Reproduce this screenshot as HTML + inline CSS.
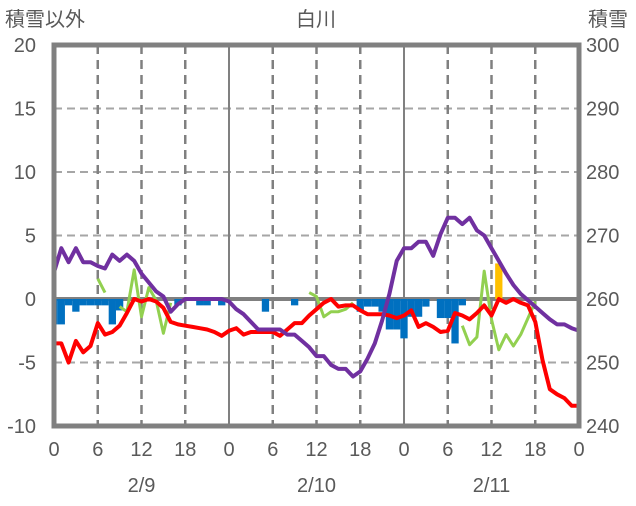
<!DOCTYPE html>
<html><head><meta charset="utf-8"><style>
body{margin:0;background:#fff;}
svg text{font-family:"Liberation Sans","Noto Sans CJK JP",sans-serif;fill:#595959;}
</style></head><body>
<svg id="chart" width="636" height="501" viewBox="0 0 636 501" xmlns="http://www.w3.org/2000/svg">
<g id="grid"></g>
<g id="bars"></g>
<g id="lines"></g>
<g id="frame"></g>
<g id="labels"></g>
<text x="316" y="26" font-size="20" text-anchor="middle">白川</text>
<text x="5" y="26" font-size="20">積雪以外</text>
<text x="588" y="26" font-size="20">積雪</text>
</svg>
<script>
const hours = Array.from({length:73},(_,i)=>i);
const leftTicks = [20,15,10,5,0,-5,-10];
const rightTicks = [300,290,280,270,260,250,240];
const xTickLabels = ["0","6","12","18","0","6","12","18","0","6","12","18","0"];
const dateLabels = ["2/9","2/10","2/11"];
// snow depth (right axis, cm)
const depth = [264.2,268,265.8,268,265.8,265.8,265.2,264.8,267,266,267,266,264,262.6,261.2,260.4,258,259.2,260,260,260,260,260,260,259.6,258.4,257.6,256.4,255.2,255.2,255.2,255.2,254.4,254.4,253.4,252.4,251,251,249.6,249,249,247.8,248.6,250.6,253,256.6,260.8,266,268,268,269,269,266.8,270.2,272.8,272.8,271.8,272.8,270.8,270,268,266,264,262.2,260.8,259.8,258.8,257.8,256.8,256,256,255.4,255];
// red series (left axis)
const redVals = [-3.5,-3.5,-5,-3.3,-4.2,-3.7,-1.9,-2.8,-2.6,-2.1,-1.1,0,-0.2,0,-0.2,-0.7,-1.8,-2,-2.1,-2.2,-2.3,-2.4,-2.6,-2.9,-2.5,-2.3,-2.8,-2.6,-2.6,-2.6,-2.6,-2.9,-2.4,-1.9,-1.9,-1.3,-0.8,-0.3,0,-0.6,-0.5,-0.5,-0.9,-1.2,-1.2,-1.2,-1.3,-1.5,-1.3,-0.9,-2.2,-1.9,-2.2,-2.6,-2.5,-1.1,-1.3,-1.6,-1.1,-0.5,-1.3,0,-0.3,0,-0.3,-0.5,-1.8,-4.8,-7.1,-7.5,-7.8,-8.4,-8.4];
const greenVals = [null,null,null,null,null,null,1.6,0.5,null,-0.6,-1.0,2.3,-1.4,0.9,-0.1,-2.7,-0.3,null,null,null,null,null,null,null,null,null,null,null,null,null,null,null,null,null,null,0.5,0.2,-1.4,-1.0,-1.0,-0.8,-0.3,null,null,null,null,null,null,null,null,null,null,null,null,null,null,-2.1,-3.6,-3.0,2.2,-1.6,-4.0,-2.8,-3.7,-2.8,-1.5,-0.2,null,null,null,null,null,null];
const blueVals = [-2,-2,-0.5,-1,-0.5,-0.5,-0.5,-0.5,-2,-0.9,0,0,0,0,0,0,0,-0.5,0,0,-0.5,-0.5,0,-0.5,0,0,0,0,0,-1,0,0,0,-0.5,0,0,0,0,0,0,0,0,-1,-0.6,-0.6,-1,-2.4,-2.4,-3.1,-1.4,-1.4,-0.6,0,-1.5,-1.5,-3.5,-0.5,0,0,0,0,0,0,0,0,0,0,0,0,0,0,0,0];
const orangeVals = hours.map(h=>h===61?2.8:0);

const NS="http://www.w3.org/2000/svg";
const X0=54,X1=579,YT=45,YB=426;
function xs(h){return X0+(X1-X0)*h/72;}
function yl(v){return YB-(YB-YT)*(v+10)/30;}
function yr(v){return YB-(YB-YT)*(v-240)/60;}
function mk(tag,attrs,parent){const e=document.createElementNS(NS,tag);for(const k in attrs)e.setAttribute(k,attrs[k]);parent.appendChild(e);return e;}
const grid=document.getElementById('grid'),bars=document.getElementById('bars'),lines=document.getElementById('lines'),frame=document.getElementById('frame'),labels=document.getElementById('labels');

leftTicks.forEach(v=>{
  if(v===20||v===-10)return;
  const l=mk('line',{x1:X0,x2:X1,y1:yl(v),y2:yl(v),stroke:v===0?'#808080':'#a6a6a6','stroke-width':v===0?4:2,'stroke-dasharray':v===0?'':'8,5'},grid);
  
  
});
for(let h=6;h<72;h+=6){
  const solid=h%24===0;
  const l=mk('line',{x1:xs(h),x2:xs(h),y1:YT,y2:YB,stroke:'#808080','stroke-width':solid?2:2.5,'stroke-dasharray':solid?'':'9,6'},grid);
  
  
}
const bw=(X1-X0)/72;
function drawBars(vals,color,name){
  vals.forEach((v,h)=>{
    if(!v)return;
    let a=Math.max(X0,xs(h)-bw/2),b=Math.min(X1,xs(h)+bw/2);
    const y0=yl(0),y1=yl(v);
    const r=mk('rect',{x:a,y:Math.min(y0,y1),width:b-a,height:Math.abs(y1-y0),fill:color},bars);
    
    
  });
}
drawBars(blueVals,'#0070c0','blue-bar');
drawBars(orangeVals,'#ffc000','orange-bar');
function drawLine(vals,yf,color,w,name){
  let d='',pen=false;
  vals.forEach((v,h)=>{
    if(v===null){pen=false;return;}
    d+=(pen?'L':'M')+xs(h).toFixed(1)+' '+yf(v).toFixed(1)+' ';pen=true;
  });
  const p=mk('path',{d:d,fill:'none',stroke:color,'stroke-width':w,'stroke-linejoin':'round'},lines);
  
  
}
drawLine(greenVals,yl,'#92d050',3,'green-line');
drawLine(redVals,yl,'#ff0000',4,'red-line');
drawLine(depth,yr,'#7030a0',4,'snow-depth-line');
const fr=mk('rect',{x:X0,y:YT,width:X1-X0,height:YB-YT,fill:'none',stroke:'#808080','stroke-width':5},frame);


leftTicks.forEach(v=>{
  const t=mk('text',{x:36,y:yl(v)+7,'font-size':20,'text-anchor':'end'},labels);
  t.textContent=v;
  
  
});
rightTicks.forEach(v=>{
  const t=mk('text',{x:586,y:yr(v)+7,'font-size':20},labels);
  t.textContent=v;
  
  
});
xTickLabels.forEach((s,i)=>{
  const t=mk('text',{x:xs(i*6),y:456,'font-size':20,'text-anchor':'middle'},labels);
  t.textContent=s;
  
  
});
dateLabels.forEach((s,i)=>{
  const t=mk('text',{x:xs(12+24*i),y:492,'font-size':20,'text-anchor':'middle'},labels);
  t.textContent=s;
  
  
});
</script>
</body></html>
